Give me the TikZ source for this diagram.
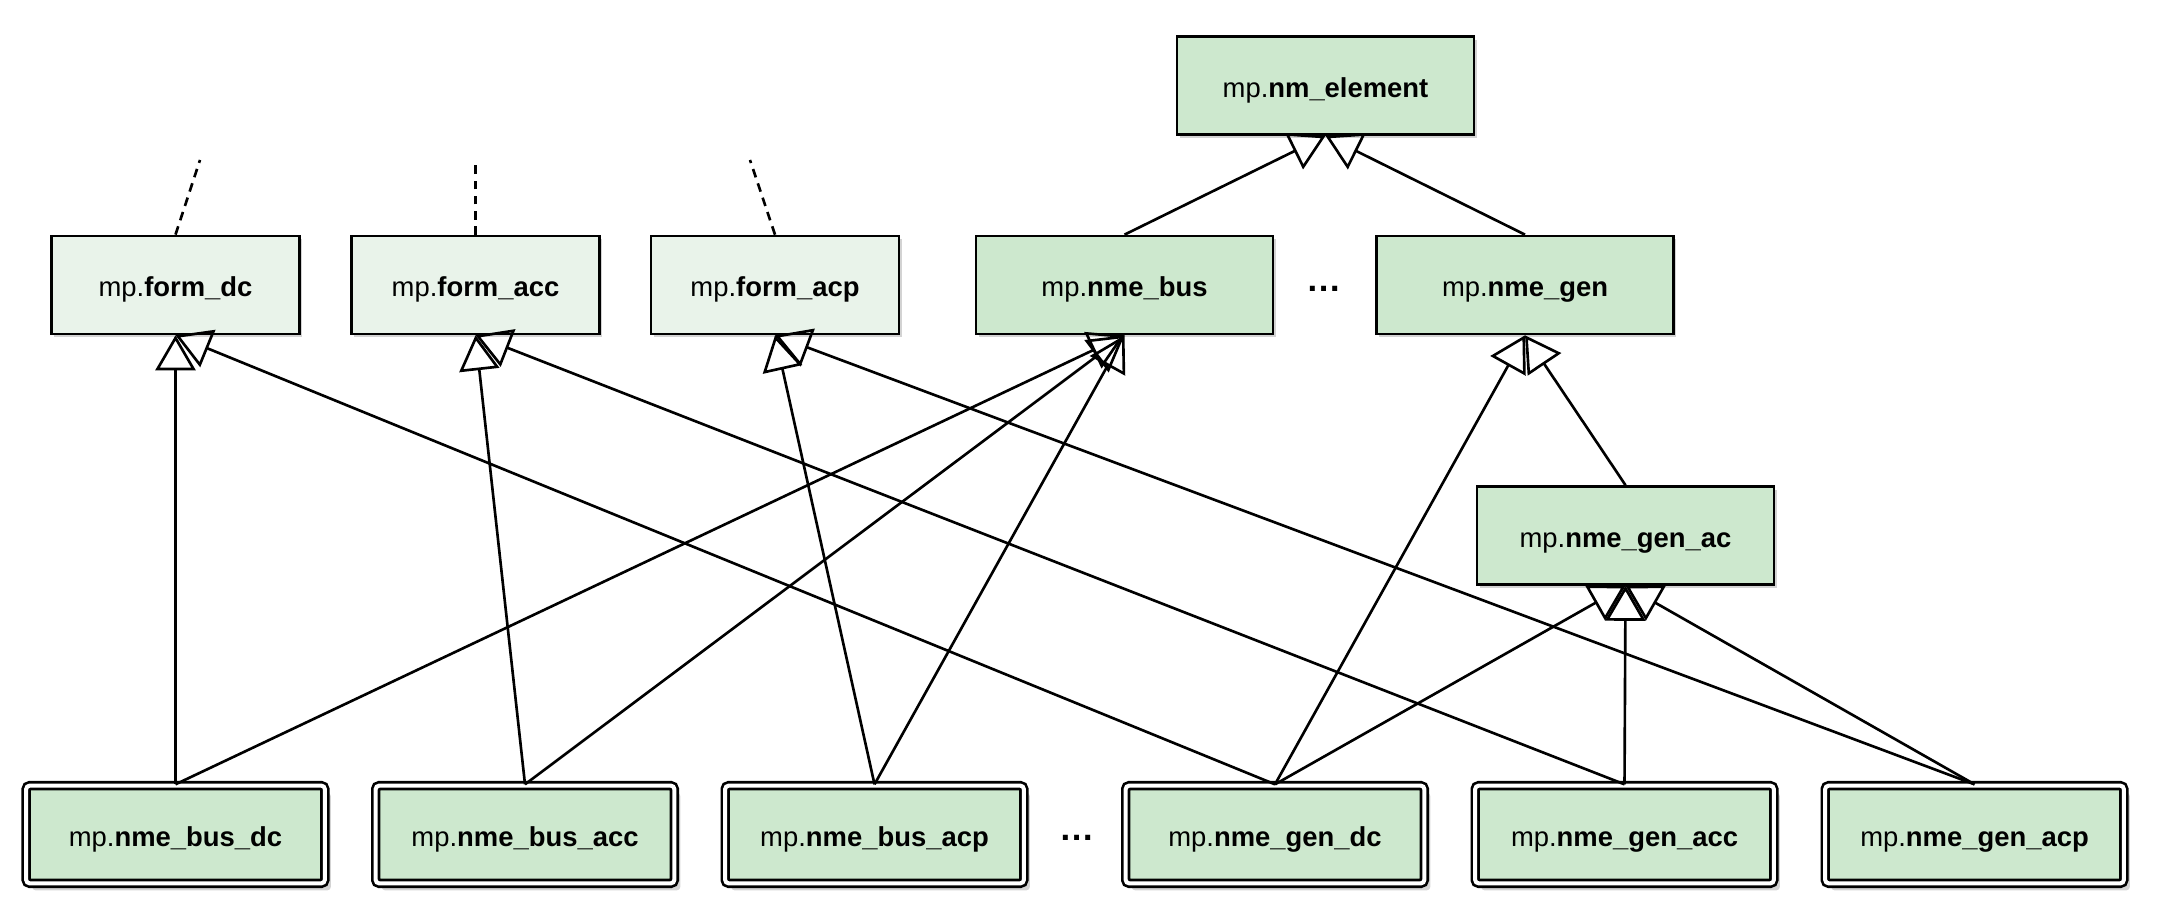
\documentclass[tikz,border=0pt]{standalone}
\usepackage{fontspec}
\setmainfont{Liberation Sans}
\usetikzlibrary{arrows.meta,shadows}

\definecolor{nmefill}{RGB}{205,232,206}
\definecolor{formfill}{RGB}{233,243,234}
\newcommand{\mpname}[1]{mp.\textbf{#1}}

\begin{document}
\begin{tikzpicture}[line width=0.75pt, font=\fontsize{7.8}{9.4}\selectfont]

      \useasboundingbox (0,0) rectangle (21.66,9.13);

      \begin{scope}[every node/.style={draw,fill=formfill,minimum width=2.48cm,minimum height=0.98cm,
          text height=0.8em,text depth=0.14em,
          drop shadow={shadow xshift=0.8pt,shadow yshift=-1pt,opacity=0.35}}]
        \node (fdc)  at (1.755,6.28) {\mpname{form\_dc}};
        \node (facc) at (4.755,6.28) {\mpname{form\_acc}};
        \node (facp) at (7.75,6.28)  {\mpname{form\_acp}};
      \end{scope}

      \begin{scope}[every node/.style={draw,fill=nmefill,minimum width=2.97cm,minimum height=0.98cm,
          text height=0.8em,text depth=0.14em,
          drop shadow={shadow xshift=0.8pt,shadow yshift=-1pt,opacity=0.35}}]
        \node (elem)  at (13.255,8.275) {\mpname{nm\_element}};
        \node (bus)   at (11.245,6.28)  {\mpname{nme\_bus}};
        \node (gen)   at (15.25,6.28)   {\mpname{nme\_gen}};
        \node (genac) at (16.255,3.775) {\mpname{nme\_gen\_ac}};
      \end{scope}

      \begin{scope}[every node/.style={draw,fill=nmefill,double,double distance=1.15pt,rounded corners=1pt,
          minimum width=2.987cm,minimum height=0.977cm,text height=0.8em,text depth=0.14em,
          drop shadow={shadow xshift=1.7pt,shadow yshift=-2pt,opacity=0.35}}]
        \node (busdc)  at (1.755,0.785)  {\mpname{nme\_bus\_dc}};
        \node (busacc) at (5.25,0.785)   {\mpname{nme\_bus\_acc}};
        \node (busacp) at (8.745,0.785)  {\mpname{nme\_bus\_acp}};
        \node (gendc)  at (12.75,0.785)  {\mpname{nme\_gen\_dc}};
        \node (genacc) at (16.245,0.785) {\mpname{nme\_gen\_acc}};
        \node (genacp) at (19.745,0.785) {\mpname{nme\_gen\_acp}};
      \end{scope}

      \node[font=\fontsize{10}{12}\selectfont] (dotstop) at (13.245,6.24) {\textbf{\textellipsis}};
      \node[font=\fontsize{10}{12}\selectfont] (dotsbot) at (10.77,0.75)  {\textbf{\textellipsis}};

      % loose ends above the formulations
      \coordinate (tdc)  at (2.00,7.53);
      \coordinate (tacc) at (4.755,7.53);
      \coordinate (tacp) at (7.50,7.53);
      \draw[dash pattern=on 2.5pt off 1.8pt] (fdc.north) -- (tdc);
      \draw[dash pattern=on 2.5pt off 1.8pt] (facc.north) -- (tacc);
      \draw[dash pattern=on 2.5pt off 1.8pt] (facp.north) -- (tacp);

      \begin{scope}[every edge/.style={draw,-{Triangle[open,length=0.35cm,width=0.40cm]}}]
        \path (busdc.north)  edge (fdc.south);
        \path (gendc.north)  edge (fdc.south);
        \path (busacc.north) edge (facc.south);
        \path (genacc.north) edge (facc.south);
        \path (busacp.north) edge (facp.south);
        \path (genacp.north) edge (facp.south);
        \path (busdc.north)  edge (bus.south);
        \path (busacc.north) edge (bus.south);
        \path (busacp.north) edge (bus.south);
        \path (gendc.north)  edge (gen.south);
        \path (genac.north)  edge (gen.south);
        \path (gendc.north)  edge (genac.south);
        \path (genacc.north) edge (genac.south);
        \path (genacp.north) edge (genac.south);
        \path (bus.north)    edge (elem.south);
        \path (gen.north)    edge (elem.south);
      \end{scope}

    \end{tikzpicture}
\end{document}
